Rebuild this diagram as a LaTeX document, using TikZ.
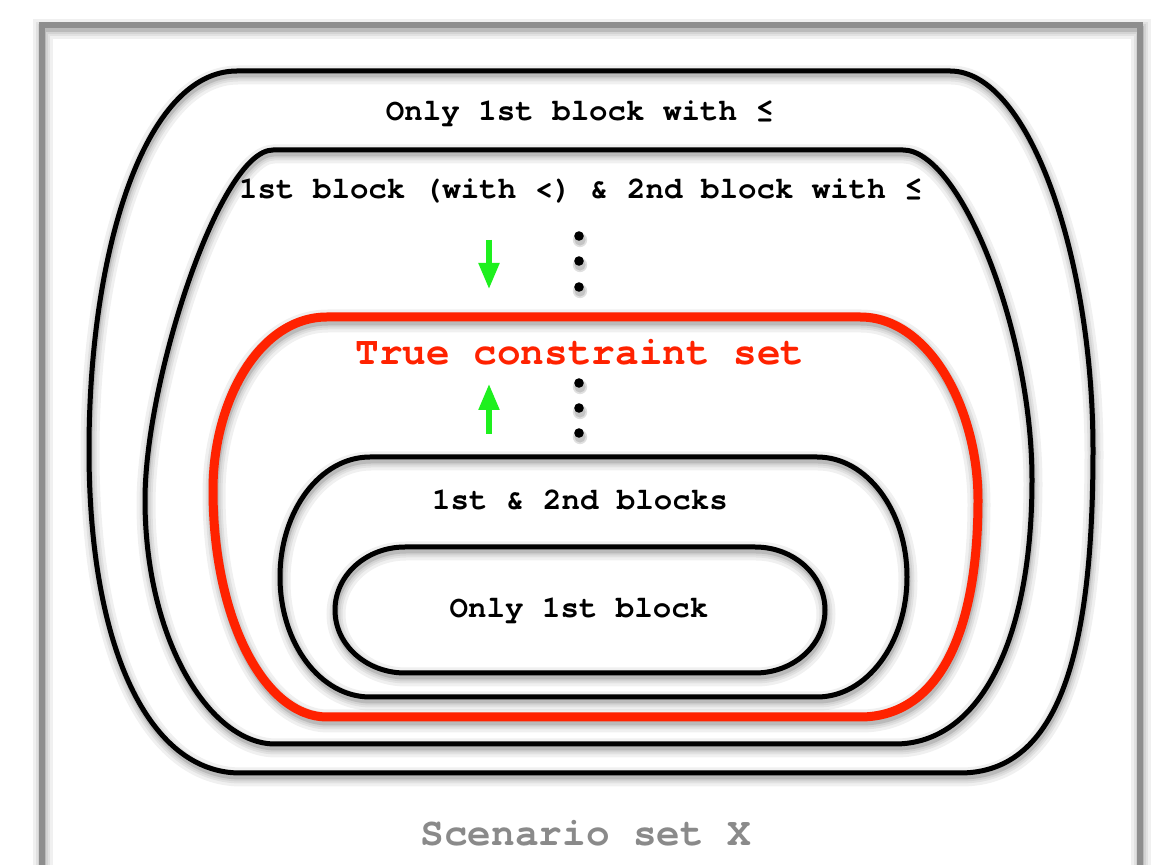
\documentclass[tikz,border=0pt]{standalone}
\usepackage{fontspec}
\newfontfamily\cour{TeX Gyre Cursor}
\usetikzlibrary{arrows.meta}
\definecolor{tcred}{RGB}{255,34,0}
\definecolor{tcgreen}{RGB}{30,240,30}
\definecolor{framegray}{RGB}{142,142,142}
\definecolor{textgray}{RGB}{138,138,138}
\tikzset{
  setline/.style={draw=black, line width=2.5pt},
  redline/.style={draw=tcred, line width=4.5pt},
  framebox/.style={draw=framegray, line width=2.6pt},
  shsoft/.style={draw=black, opacity=0.06, line width=#1},
  lbl/.style={font=\cour\bfseries\fontsize{15.4}{18}\selectfont, anchor=base, inner sep=0pt},
  biglbl/.style={font=\cour\bfseries\fontsize{19.7}{23}\selectfont, anchor=base, inner sep=0pt},
  dotmark/.style={fill=black},
  garrow/.style={draw=tcgreen, line width=2.6pt, -{Triangle[length=13pt,width=10pt]}},
}
\newcommand{\shadowpath}[2]{%
  \begin{scope}[shift={(1,4)}]
    \draw[shsoft=#2+7pt] #1;
    \draw[shsoft=#2+4pt] #1;
    \draw[shsoft=#2+2pt] #1;
    \draw[shsoft=#2] #1;
    \draw[shsoft=#2] #1;
  \end{scope}}
\def\pathA{(237,71) -- (950,71) .. controls (1030,71) and (1093,260) .. (1093,450) .. controls (1093,650) and (1060,773) .. (960,773) -- (240,773) .. controls (150,773) and (89,650) .. (89,450) .. controls (89,250) and (145,71) .. (237,71) -- cycle}
\def\pathB{(273,150) -- (903,150) .. controls (960,150) and (1032,330) .. (1032,480) .. controls (1032,640) and (980,744) .. (895,744) -- (275,744) .. controls (210,744) and (145,640) .. (145,500) .. controls (145,380) and (220,150) .. (273,150) -- cycle}
\def\pathC{(327,317) -- (860,317) .. controls (930,317) and (978,410) .. (978,500) .. controls (978,630) and (940,717) .. (860,717) -- (327,717) .. controls (265,717) and (213,620) .. (213,490) .. controls (213,400) and (260,317) .. (327,317) -- cycle}
\def\pathD{(370,457) -- (817,457) .. controls (866.7,457) and (907,510.7) .. (907,577) .. controls (907,643.3) and (866.7,697) .. (817,697) -- (370,697) .. controls (320.3,697) and (280,643.3) .. (280,577) .. controls (280,510.7) and (320.3,457) .. (370,457) -- cycle}
\def\pathE{(405,547) -- (755,547) .. controls (793.7,547) and (825,575.2) .. (825,610) .. controls (825,644.8) and (793.7,673) .. (755,673) -- (405,673) .. controls (366.3,673) and (335,644.8) .. (335,610) .. controls (335,575.2) and (366.3,547) .. (405,547) -- cycle}
\def\pathF{(42,25) rectangle (1140,930)}
\begin{document}
\begin{tikzpicture}[x=0.5pt, y=-0.5pt]
\useasboundingbox (0,0) rectangle (1169,865);
\clip (0,0) rectangle (1169,865);
\fill[white] (0,0) rectangle (1169,865);
% frame
\shadowpath{\pathF}{2.6pt}
\draw[framebox] \pathF;
% nested sets
\shadowpath{\pathA}{2.5pt}
\draw[setline] \pathA;
\shadowpath{\pathB}{2.5pt}
\draw[setline] \pathB;
\shadowpath{\pathC}{4.5pt}
\draw[redline] \pathC;
\shadowpath{\pathD}{2.5pt}
\draw[setline] \pathD;
\shadowpath{\pathE}{2.5pt}
\draw[setline] \pathE;
% labels
\node[lbl] (tA) at (580,121) {Only 1st block with ≤};
\node[lbl] (tB) at (581,199) {1st block (with <) \& 2nd block with ≤};
\node[biglbl, text=tcred] (tC) at (580,365) {True constraint set};
\node[lbl] (tD) at (580,510) {1st \& 2nd blocks};
\node[lbl] (tE) at (579,618) {Only 1st block};
\node[biglbl, text=textgray] (tF) at (586,846) {Scenario set X};
% dots
\foreach \y [count=\i] in {236,261,287,383,408,433}{
  \fill[black, opacity=0.12] (580,\y+4) circle[radius=3.6pt];
  \fill[black, opacity=0.12] (580,\y+4) circle[radius=2.8pt];
  \node[circle, dotmark, inner sep=0pt, minimum size=4.8pt] (d\i) at (579,\y) {};
}
% green arrows
\coordinate (ga1) at (489,240);
\coordinate (ga2) at (489,289);
\coordinate (gb1) at (489,434);
\coordinate (gb2) at (489,384);
\draw[garrow] (ga1) -- (ga2);
\draw[garrow] (gb1) -- (gb2);
\end{tikzpicture}
\end{document}
